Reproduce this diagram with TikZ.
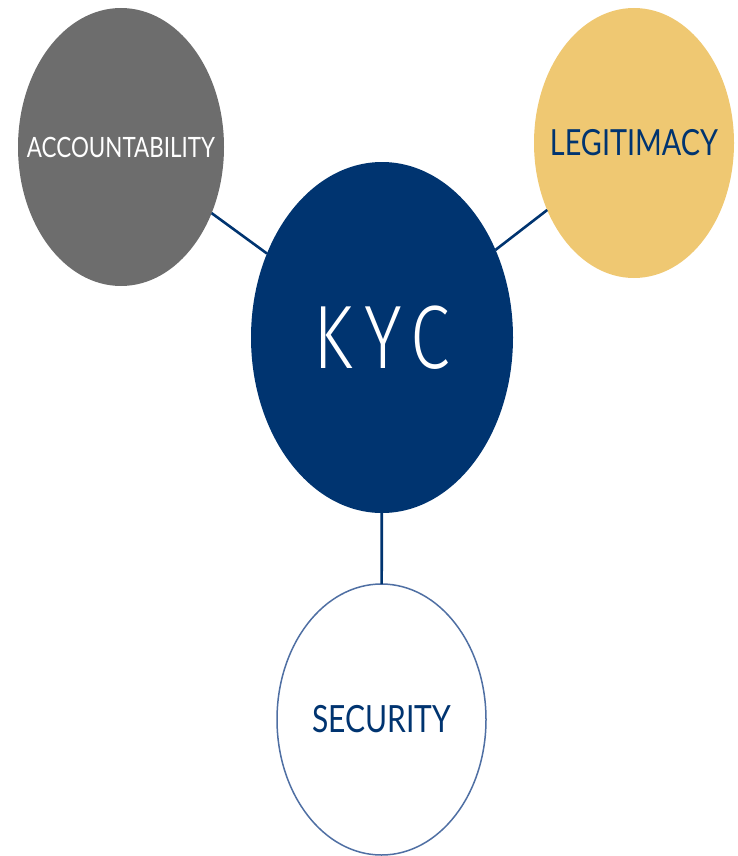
\documentclass[tikz,border=0pt]{standalone}
\usepackage{fontspec}
\usepackage{graphicx}
\usetikzlibrary{shapes.geometric}
\setmainfont{Lato}
\newfontfamily\kycfont[LetterSpace=15]{Fira Sans Light}
\definecolor{navy}{HTML}{003470}
\definecolor{stone}{HTML}{6D6D6D}
\definecolor{sand}{HTML}{EFC872}
\definecolor{rim}{HTML}{4F6FA3}
\newcommand{\squash}[1]{\makebox[0pt]{\scalebox{.8}[1]{#1}}}
\begin{document}
\begin{tikzpicture}[x=1pt,y=-1pt,
		bubble/.style={ellipse,inner sep=0pt,outer sep=0pt},
		tie/.style={draw=navy,line width=2.6pt}]
	\useasboundingbox (0,0) rectangle (737,856);
	\node[bubble,fill=stone,minimum width=206pt,minimum height=278pt,text=white,
		font=\fontsize{28}{30}\selectfont] (acc) at (121,147) {\squash{ACCOUNTABILITY}};
	\node[bubble,fill=sand,minimum width=200pt,minimum height=270pt,text=navy,
		font=\fontsize{36}{38}\selectfont] (leg) at (634,143) {\squash{LEGITIMACY}};
	\node[bubble,fill=navy,minimum width=262pt,minimum height=351pt,text=white,
		font=\kycfont\fontsize{90}{92}\selectfont] (kyc) at (382,337.5) {\squash{KYC}};
	\node[bubble,draw=rim,line width=1.5pt,fill=white,minimum width=209pt,minimum height=271pt,
		text=navy,font=\fontsize{37.5}{40}\selectfont] (sec) at (381.5,719.5) {\squash{SECURITY}};
	\foreach \x in {acc,leg,sec}{
		\draw[tie] (kyc)--(\x);
	}
\end{tikzpicture}
\end{document}
